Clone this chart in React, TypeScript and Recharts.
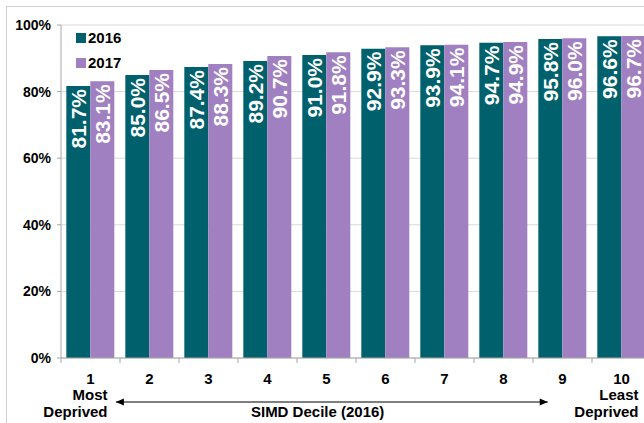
import { BarChart, Bar, XAxis, YAxis, CartesianGrid, Legend, LabelList } from "recharts";

const deciles = ["1", "2", "3", "4", "5", "6", "7", "8", "9", "10"];
const subLabels: Record<string, string[]> = {
  "1": ["Most", "Deprived"],
  "10": ["Least", "Deprived"],
};
const values2016 = [81.7, 85.0, 87.4, 89.2, 91.0, 92.9, 93.9, 94.7, 95.8, 96.6];
const values2017 = [83.1, 86.5, 88.3, 90.7, 91.8, 93.3, 94.1, 94.9, 96.0, 96.7];
const yTicks = [0, 20, 40, 60, 80, 100];
const axisTitle = "SIMD Decile (2016)";

const TEAL = "#00616D";
const PURPLE = "#A080C0";
const FONT = "Arial, 'Liberation Sans', sans-serif";

const data = deciles.map((d, i) => ({ decile: d, y2016: values2016[i], y2017: values2017[i] }));

// eslint-disable-next-line @typescript-eslint/no-explicit-any
function DecileTick({ x, y, payload, width, visibleTicksCount }: any) {
  const band = width / visibleTicksCount;
  const lines = subLabels[payload.value] || [];
  return (
    <g>
      <line x1={x - band / 2} x2={x - band / 2} y1={y - 8} y2={y - 3} stroke="#a6a6a6" />
      {payload.value === "10" && (
        <line x1={x + band / 2} x2={x + band / 2} y1={y - 8} y2={y - 3} stroke="#a6a6a6" />
      )}
      <text x={x} y={y + 18} textAnchor="middle" fontSize={15} fontWeight="bold" fill="#000" fontFamily={FONT}>
        {payload.value}
      </text>
      {lines.map((t, i) => (
        <text key={t} x={x + 17} y={y + 34 + i * 17} textAnchor="end" fontSize={15} fontWeight="bold" fill="#000" fontFamily={FONT}>
          {t}
        </text>
      ))}
    </g>
  );
}

// eslint-disable-next-line @typescript-eslint/no-explicit-any
function ArrowTitle({ viewBox }: any) {
  const { x, y, width } = viewBox;
  const x1 = x + 0.093 * width;
  const x2 = x + 0.825 * width;
  const ay = y + 44;
  return (
    <g>
      <line x1={x1} x2={x2} y1={ay} y2={ay} stroke="#000" strokeWidth={1.2} />
      <path d={`M${x1} ${ay} l8 -3.5 l0 7 z`} fill="#000" />
      <path d={`M${x2} ${ay} l-8 -3.5 l0 7 z`} fill="#000" />
      <text x={x + 0.435 * width} y={y + 59} textAnchor="middle" fontSize={15} fontWeight="bold" fill="#000" fontFamily={FONT}>
        {axisTitle}
      </text>
    </g>
  );
}

// eslint-disable-next-line @typescript-eslint/no-explicit-any
function BarValue({ x, y, width, value }: any) {
  const cx = x + width / 2;
  const ty = y + 3;
  return (
    <text
      x={cx}
      y={ty}
      transform={`rotate(-90 ${cx} ${ty})`}
      textAnchor="end"
      dominantBaseline="central"
      fontSize={21}
      fontWeight="bold"
      fill="#fff"
      fontFamily={FONT}
    >
      {`${value.toFixed(1)}%`}
    </text>
  );
}

function LegendBox() {
  const items = [
    { name: "2016", color: TEAL },
    { name: "2017", color: PURPLE },
  ];
  return (
    <div style={{ fontFamily: FONT, fontSize: 15, fontWeight: "bold", textAlign: "left" }}>
      {items.map((it) => (
        <div key={it.name} style={{ display: "flex", alignItems: "center", height: 25 }}>
          <span style={{ width: 10, height: 10, background: it.color, marginRight: 2 }} />
          <span>{it.name}</span>
        </div>
      ))}
    </div>
  );
}

export default function App() {
  return (
    <div style={{ position: "fixed", left: 0, top: 0, width: 644, height: 423, overflow: "hidden", background: "#fff" }}>
      <div
        style={{
          position: "absolute",
          left: 6,
          top: 6,
          width: 700,
          height: 500,
          border: "1px solid #d0d0d0",
        }}
      />
      <div style={{ position: "absolute", left: 0, top: 0 }}>
        <BarChart
          width={680}
          height={423}
          data={data}
          margin={{ top: 25, right: 29, left: 0, bottom: 0 }}
          barCategoryGap="9%"
          barGap={0}
        >
          <CartesianGrid vertical={false} stroke="#d9d9d9" />
          <XAxis
            dataKey="decile"
            height={65}
            tickLine={false}
            axisLine={{ stroke: "#a6a6a6" }}
            tick={<DecileTick />}
            interval={0}
            label={<ArrowTitle />}
          />
          <YAxis
            width={61}
            domain={[0, 100]}
            ticks={yTicks}
            tickFormatter={(v) => `${v}%`}
            tick={{ fontSize: 14, fontWeight: "bold", fill: "#000", fontFamily: FONT }}
            tickSize={4}
            tickMargin={6}
            axisLine={{ stroke: "#a6a6a6" }}
            tickLine={{ stroke: "#a6a6a6" }}
          />
          <Legend
            layout="horizontal"
            align="center"
            verticalAlign="middle"
            content={<LegendBox />}
            wrapperStyle={{ left: 76, top: 25, width: 80 }}
          />
          <Bar dataKey="y2016" name="2016" fill={TEAL} isAnimationActive={false}>
            <LabelList dataKey="y2016" content={<BarValue />} />
          </Bar>
          <Bar dataKey="y2017" name="2017" fill={PURPLE} isAnimationActive={false}>
            <LabelList dataKey="y2017" content={<BarValue />} />
          </Bar>
        </BarChart>
      </div>
    </div>
  );
}
